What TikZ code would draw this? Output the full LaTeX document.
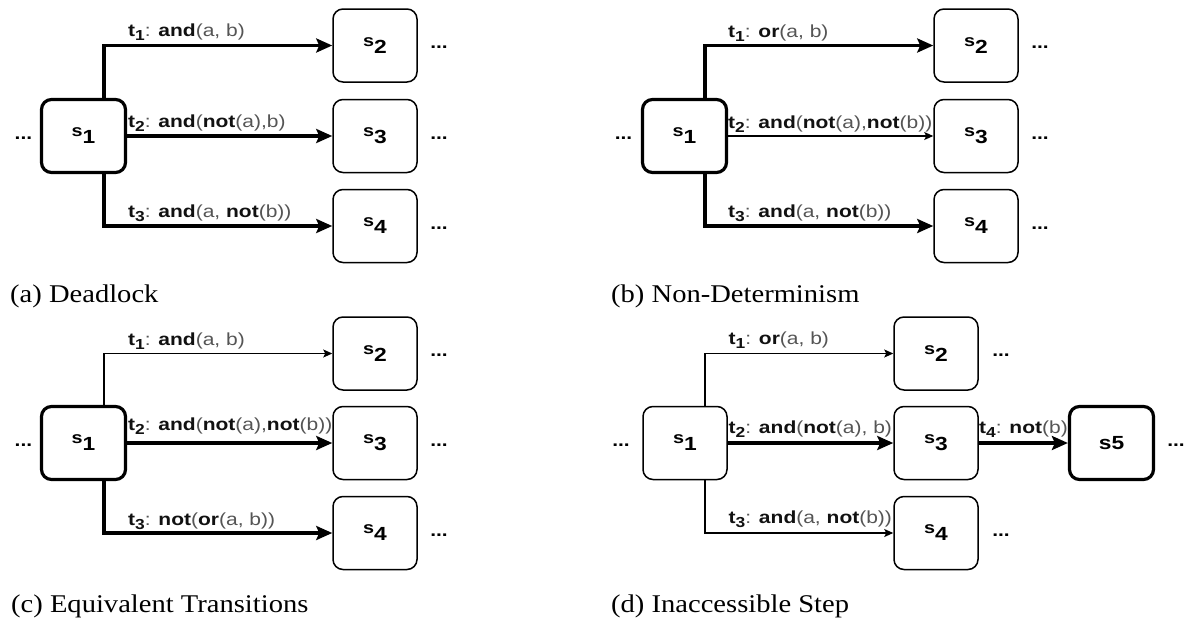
\documentclass[tikz,border=0pt]{standalone}
\usepackage{fontspec}
\setmainfont{Liberation Serif}[FakeStretch=1.12]
\newfontfamily\labfont{Liberation Sans}[FakeStretch=1.2]
\usetikzlibrary{arrows.meta}
\definecolor{kwc}{HTML}{111111}
\definecolor{argc}{HTML}{555555}
\newcommand\mykw[1]{{\bfseries\color{kwc}#1}}
\newcommand\myarg[1]{{\color{argc}#1}}
\newcommand\mytl[2]{\mykw{t}\raisebox{-4pt}{\fontsize{14.5}{15}\selectfont\bfseries\color{kwc}#1}\myarg{: }#2}
\newcommand\mystate[1]{{\fontsize{16.5}{17}\selectfont\bfseries s}\raisebox{-7pt}{\fontsize{19}{19}\selectfont\bfseries #1}}
\begin{document}
\begin{tikzpicture}[x=1pt,y=-1pt,
  box/.style={draw=black, line width=1.5pt, rounded corners=10pt, minimum width=84pt, minimum height=73pt, inner sep=0pt, font=\labfont, fill=white},
  thickbox/.style={box, line width=3.2pt},
  lbl/.style={anchor=base west, inner sep=0pt, font={\labfont\fontsize{17.5}{20}\selectfont}},
  dotsn/.style={inner sep=0pt, font={\labfont\fontsize{17.5}{20}\selectfont\bfseries}},
  captxt/.style={anchor=base west, inner sep=0pt, font={\fontsize{25.5}{28}\selectfont}},
  thk/.style={line width=3.2pt, -{Stealth[length=16pt,width=14pt,inset=3pt]}},
  thn/.style={line width=1.3pt, -{Stealth[length=9pt,width=8pt,inset=2pt]}}]
\useasboundingbox[fill=white] (0,0) rectangle (1191,621);

% ---------------- (a) Deadlock
\node[thickbox] (a1) at (83.5,136) {\mystate{1}};
\node[box] (a2) at (375,45.5) {\mystate{2}};
\node[box] (a3) at (375,136) {\mystate{3}};
\node[box] (a4) at (375,226) {\mystate{4}};
\node[dotsn] (a0d) at (23.5,138) {...};
\node[dotsn] (a2d) at (439,47.5) {...};
\node[dotsn] (a3d) at (439,138) {...};
\node[dotsn] (a4d) at (439,228) {...};
\draw[thk] ([xshift=20.5pt]a1.north) |- (a2.west);
\draw[thk] (a1.east) -- (a3.west);
\draw[thk] ([xshift=20.5pt]a1.south) |- (a4.west);
\node[lbl] (at1) at (128,36.5) {\mytl{1}{\mykw{and}\myarg{(a, b)}}};
\node[lbl] (at2) at (128,127) {\mytl{2}{\mykw{and}\myarg{(}\mykw{not}\myarg{(a),b)}}};
\node[lbl] (at3) at (128,217) {\mytl{3}{\mykw{and}\myarg{(a, }\mykw{not}\myarg{(b))}}};
\node[captxt] (acap) at (10,302) {(a) Deadlock};

% ---------------- (b) Non-Determinism
\node[thickbox] (b1) at (684.5,136) {\mystate{1}};
\node[box] (b2) at (976,45.5) {\mystate{2}};
\node[box] (b3) at (976,136) {\mystate{3}};
\node[box] (b4) at (976,226) {\mystate{4}};
\node[dotsn] (b0d) at (623.5,138) {...};
\node[dotsn] (b2d) at (1040,47.5) {...};
\node[dotsn] (b3d) at (1040,138) {...};
\node[dotsn] (b4d) at (1040,228) {...};
\draw[thk] ([xshift=20.5pt]b1.north) |- (b2.west);
\draw[thn] (b1.east) -- (b3.west);
\draw[thk] ([xshift=20.5pt]b1.south) |- (b4.west);
\node[lbl] (bt1) at (728,37) {\mytl{1}{\mykw{or}\myarg{(a, b)}}};
\node[lbl] (bt2) at (728,128) {\mytl{2}{\mykw{and}\myarg{(}\mykw{not}\myarg{(a),}\mykw{not}\myarg{(b))}}};
\node[lbl] (bt3) at (728,217) {\mytl{3}{\mykw{and}\myarg{(a, }\mykw{not}\myarg{(b))}}};
\node[captxt] (bcap) at (611,302) {(b) Non-Determinism};

% ---------------- (c) Equivalent Transitions
\node[thickbox] (c1) at (83.5,443) {\mystate{1}};
\node[box] (c2) at (375,353.5) {\mystate{2}};
\node[box] (c3) at (375,443) {\mystate{3}};
\node[box] (c4) at (375,533) {\mystate{4}};
\node[dotsn] (c0d) at (23.5,445) {...};
\node[dotsn] (c2d) at (439,355.5) {...};
\node[dotsn] (c3d) at (439,445) {...};
\node[dotsn] (c4d) at (439,535) {...};
\draw[thn] ([xshift=20.5pt]c1.north) |- (c2.west);
\draw[thk] (c1.east) -- (c3.west);
\draw[thk] ([xshift=20.5pt]c1.south) |- (c4.west);
\node[lbl] (ct1) at (128,345) {\mytl{1}{\mykw{and}\myarg{(a, b)}}};
\node[lbl] (ct2) at (128,430) {\mytl{2}{\mykw{and}\myarg{(}\mykw{not}\myarg{(a),}\mykw{not}\myarg{(b))}}};
\node[lbl] (ct3) at (128,525) {\mytl{3}{\mykw{not}\myarg{(}\mykw{or}\myarg{(a, b))}}};
\node[captxt] (ccap) at (11,612) {(c) Equivalent Transitions};

% ---------------- (d) Inaccessible Step
\node[box] (d1) at (685,443) {\mystate{1}};
\node[box] (d2) at (936,353.5) {\mystate{2}};
\node[box] (d3) at (936,443) {\mystate{3}};
\node[box] (d4) at (936,533) {\mystate{4}};
\node[thickbox] (d5) at (1111.5,443) {{\fontsize{19}{20}\selectfont\bfseries s5}};
\node[dotsn] (d0d) at (621,445) {...};
\node[dotsn] (d2d) at (1001,355.5) {...};
\node[dotsn] (d4d) at (1001,535) {...};
\node[dotsn] (d5d) at (1176,445) {...};
\draw[thn] ([xshift=20pt]d1.north) |- (d2.west);
\draw[thk] (d1.east) -- (d3.west);
\draw[thn] ([xshift=20pt]d1.south) |- (d4.west);
\draw[thk] (d3.east) -- (d5.west);
\node[lbl] (dt1) at (728.5,344) {\mytl{1}{\mykw{or}\myarg{(a, b)}}};
\node[lbl] (dt2) at (728.5,433) {\mytl{2}{\mykw{and}\myarg{(}\mykw{not}\myarg{(a), b)}}};
\node[lbl] (dt3) at (728.5,523) {\mytl{3}{\mykw{and}\myarg{(a, }\mykw{not}\myarg{(b))}}};
\node[lbl] (dt4) at (979,433) {\mytl{4}{\mykw{not}\myarg{(b)}}};
\node[captxt] (dcap) at (611,612) {(d) Inaccessible Step};
\end{tikzpicture}
\end{document}
